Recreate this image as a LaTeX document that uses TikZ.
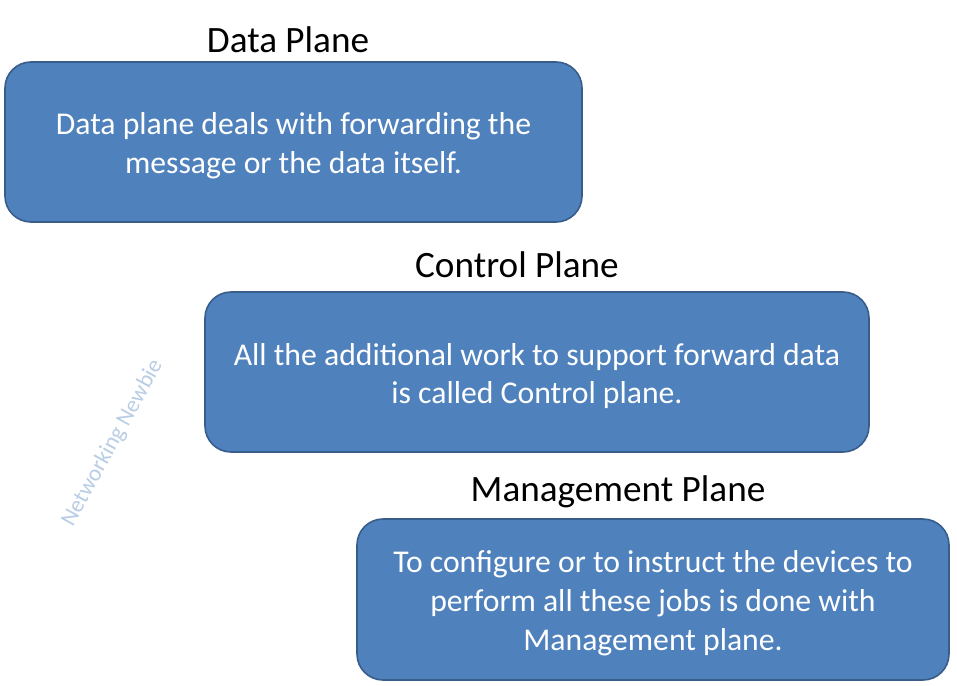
\documentclass[tikz,border=0pt]{standalone}
\usepackage{fontspec}
\setmainfont{Carlito}
\definecolor{boxfill}{HTML}{4F81BD}
\definecolor{boxline}{HTML}{385D8A}
\definecolor{wmark}{HTML}{B9CDE5}
\begin{document}
\begin{tikzpicture}[x=1pt,y=-1pt,
  planebox/.style={draw=boxline, line width=1.6pt, fill=boxfill, rounded corners=26pt, inner sep=0pt},
  planetext/.style={text=white, align=center, inner sep=0pt, font=\fontsize{31.7}{38.8}\selectfont},
  planetitle/.style={text=black, inner sep=0pt, font=\fontsize{37.2}{40}\selectfont}]
\useasboundingbox (0,0) rectangle (957,685);
\fill[white] (0,0) rectangle (957,685);
\node[planebox, minimum width=577pt, minimum height=160pt] (data) at (293.5,142) {};
\node[planebox, minimum width=664pt, minimum height=160pt] (control) at (537,372) {};
\node[planebox, minimum width=592pt, minimum height=161pt] (mgmt) at (653,599.5) {};
\node[planetext, yshift=-4pt] (datatx) at (data.center)
  {Data plane deals with forwarding the\\message or the data itself.};
\node[planetext, yshift=-4pt] (controltx) at (control.center)
  {All the additional work to support forward data\\is called Control plane.};
\node[planetext, yshift=-3.5pt] (mgmttx) at (mgmt.center)
  {To configure or to instruct the devices to\\perform all these jobs is done with\\Management plane.};
\node[planetitle] (datat) at (288,40) {Data Plane};
\node[planetitle] (controlt) at (517,265) {Control Plane};
\node[planetitle] (mgmtt) at (618,492) {Management Plane};
\node[text=wmark, rotate=61, inner sep=0pt, font=\fontsize{23}{25}\selectfont] (wm) at (112.5,443) {Networking Newbie};
\end{tikzpicture}
\end{document}
